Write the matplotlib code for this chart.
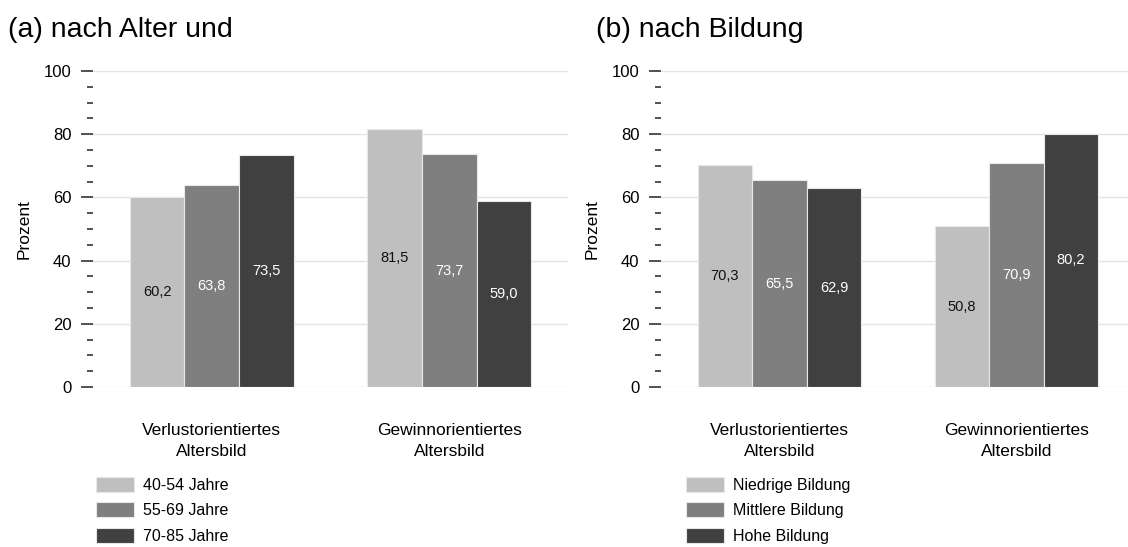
import matplotlib
matplotlib.use("Agg")
import matplotlib.pyplot as plt
import numpy as np
from matplotlib.ticker import MultipleLocator

plt.rcParams["font.family"] = ["Liberation Sans", "DejaVu Sans"]

categories = ["Verlustorientiertes\nAltersbild", "Gewinnorientiertes\nAltersbild"]

alter_labels = ["40-54 Jahre", "55-69 Jahre", "70-85 Jahre"]
alter_values = [
    [60.2, 81.5],
    [63.8, 73.7],
    [73.5, 59.0],
]

bildung_labels = ["Niedrige Bildung", "Mittlere Bildung", "Hohe Bildung"]
bildung_values = [
    [70.3, 50.8],
    [65.5, 70.9],
    [62.9, 80.2],
]

colors = ["#bfbfbf", "#7f7f7f", "#404040"]
text_colors = ["#111111", "white", "white"]

W, H = 1128, 547


def draw_panel(ax, values, labels, title, title_x, legend_x):
    x = np.arange(len(categories))
    width = 0.23
    for i, vals in enumerate(values):
        pos = x + (i - 1) * width
        bars = ax.bar(pos, vals, width, color=colors[i], edgecolor="#e8e8e8",
                      linewidth=0.8, label=labels[i], zorder=3)
        for b, v in zip(bars, vals):
            ax.text(b.get_x() + b.get_width() / 2, v / 2,
                    ("%.1f" % v).replace(".", ","),
                    ha="center", va="center", fontsize=10.5,
                    color=text_colors[i], zorder=4)

    ax.set_xlim(-0.5, 1.5)
    ax.set_ylim(0, 100)
    ax.set_xticks(x)
    ax.set_xticklabels(categories, fontsize=12.5, linespacing=1.45)
    ax.tick_params(axis="x", length=0, pad=26)
    ax.yaxis.set_major_locator(MultipleLocator(20))
    ax.yaxis.set_minor_locator(MultipleLocator(5))
    ax.tick_params(axis="y", which="major", length=8.5, width=1.1,
                   color="#222222", labelsize=12, pad=7)
    ax.tick_params(axis="y", which="minor", length=4.3, width=1.1,
                   color="#222222")
    ax.set_ylabel("Prozent", fontsize=12.5, labelpad=9)
    ax.grid(axis="y", color="#e3e3e3", linewidth=1, zorder=0)
    for s in ax.spines.values():
        s.set_visible(False)

    fig.text(title_x / W, 1 - 30 / H, title, fontsize=20.5, va="center",
             ha="left")

    ax.legend(loc="upper left", bbox_to_anchor=(legend_x / W, 1 - 477 / H),
              bbox_transform=fig.transFigure, frameon=False, fontsize=11.5,
              handlelength=2.35, handleheight=1.05, handletextpad=0.62,
              labelspacing=0.6, borderpad=0, borderaxespad=0)


fig = plt.figure(figsize=(W / 100, H / 100), dpi=100)
ax1 = fig.add_axes([93 / W, 160 / H, 475 / W, 316 / H])
ax2 = fig.add_axes([661 / W, 160 / H, 474 / W, 316 / H])

draw_panel(ax1, alter_values, alter_labels, "(a) nach Alter und", 8, 96)
draw_panel(ax2, bildung_values, bildung_labels, "(b) nach Bildung", 596, 686)

fig.savefig("out.png", dpi=100)
